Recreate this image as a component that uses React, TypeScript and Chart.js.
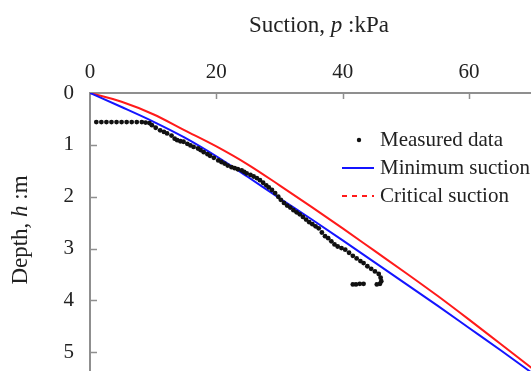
import React, { useEffect, useRef } from 'react';
import { Chart, registerables } from 'chart.js';

Chart.register(...registerables);

// ---------- data ----------
const seriesLabels = ['Measured data', 'Minimum suction', 'Critical suction'];

const measuredX = [
  1.0, 1.8, 2.6, 3.4, 4.2, 5.0, 5.8, 6.6, 7.4, 8.2, 8.8, 9.4,
  9.8, 10.4, 11.1, 11.7, 12.2, 12.9, 13.4, 13.8, 14.3, 14.8, 15.4, 15.9, 16.4, 17.1,
  17.5, 18.0, 18.6, 19.0, 19.6, 20.3, 20.8, 21.3, 21.8, 22.4, 22.9, 23.4, 24.0, 24.4,
  24.8, 25.4, 25.9, 26.4, 26.9, 27.4, 27.9, 28.3, 28.8, 29.3, 29.8, 30.2, 30.7, 31.2,
  31.7, 32.2, 32.7, 33.2, 33.7, 34.2, 34.7, 35.2, 35.7, 36.2, 36.7, 37.2, 37.7, 38.2,
  38.7, 39.2, 39.8, 40.4, 41.0, 41.6, 42.2, 42.8, 43.3, 43.9, 44.5, 45.1, 45.7, 46.0,
  46.1, 45.9, 45.4, 43.3, 42.7, 42.1, 41.6,
];
const measuredDepth = [
  0.56, 0.56, 0.56, 0.56, 0.56, 0.56, 0.56, 0.56, 0.56, 0.56, 0.57, 0.58,
  0.62, 0.67, 0.72, 0.75, 0.78, 0.82, 0.88, 0.91, 0.93, 0.94, 0.98, 1.01, 1.04, 1.07,
  1.10, 1.14, 1.18, 1.21, 1.25, 1.30, 1.33, 1.36, 1.40, 1.43, 1.45, 1.47, 1.49, 1.52,
  1.55, 1.58, 1.61, 1.64, 1.68, 1.73, 1.78, 1.82, 1.87, 1.93, 2.00, 2.06, 2.12, 2.17,
  2.21, 2.26, 2.30, 2.34, 2.39, 2.44, 2.49, 2.53, 2.57, 2.61, 2.69, 2.76, 2.80, 2.86,
  2.92, 2.96, 2.99, 3.02, 3.08, 3.14, 3.19, 3.24, 3.28, 3.34, 3.39, 3.44, 3.49, 3.56,
  3.63, 3.68, 3.69, 3.68, 3.68, 3.69, 3.69,
];

const minimumX = [0, 5, 10, 15, 20, 25, 30, 35, 40, 45, 50, 55, 60, 65, 70];
const minimumDepth = [0, 0.27, 0.55, 0.86, 1.22, 1.62, 2.03, 2.43, 2.84, 3.26, 3.68, 4.10, 4.53, 4.96, 5.40];

const criticalX = [0, 5, 10, 15, 20, 25, 30, 35, 40, 45, 50, 55, 60, 65, 70];
const criticalDepth = [0, 0.17, 0.41, 0.72, 1.03, 1.38, 1.78, 2.19, 2.61, 3.04, 3.47, 3.91, 4.37, 4.84, 5.31];

const xTickValues = [0, 20, 40, 60];
const yTickValues = [0, 1, 2, 3, 4, 5];

const X_MAX = 69.8;
const Y_MAX = 5.36;

const SERIF = "'Liberation Serif', 'Times New Roman', serif";
const AXIS_GRAY = '#8f8f8f';

const toPoints = (xs: number[], ys: number[]) => xs.map((x, i) => ({ x, y: ys[i] }));

// inner ticks
const innerTicksPlugin = {
  id: 'innerTicks',
  afterDraw(chart: any) {
    const { ctx, chartArea, scales } = chart;
    ctx.save();
    ctx.strokeStyle = AXIS_GRAY;
    ctx.lineWidth = 1.5;
    ctx.beginPath();
    xTickValues.forEach((v) => {
      if (v === 0) return;
      const px = Math.round(scales.x.getPixelForValue(v)) + 0.5;
      ctx.moveTo(px, chartArea.top);
      ctx.lineTo(px, chartArea.top + 6);
    });
    yTickValues.forEach((v) => {
      if (v === 0) return;
      const py = Math.round(scales.y.getPixelForValue(v)) + 0.5;
      ctx.moveTo(chartArea.left, py);
      ctx.lineTo(chartArea.left + 7, py);
    });
    ctx.stroke();
    ctx.restore();
  },
};

// axis titles with italic variable
const drawMixed = (ctx: any, parts: { t: string; italic: boolean }[], size: number) => {
  const widths = parts.map((p) => {
    ctx.font = `${p.italic ? 'italic ' : ''}${size}px ${SERIF}`;
    return ctx.measureText(p.t).width;
  });
  const total = widths.reduce((a, b) => a + b, 0);
  let x = -total / 2;
  parts.forEach((p, i) => {
    ctx.font = `${p.italic ? 'italic ' : ''}${size}px ${SERIF}`;
    ctx.fillText(p.t, x, 0);
    x += widths[i];
  });
};

const titlesPlugin = {
  id: 'axisTitles',
  afterDraw(chart: any) {
    const { ctx } = chart;
    ctx.save();
    ctx.fillStyle = '#222';
    ctx.textBaseline = 'middle';
    ctx.textAlign = 'left';
    ctx.save();
    ctx.translate(319, 26);
    drawMixed(ctx, [
      { t: 'Suction, ', italic: false },
      { t: 'p', italic: true },
      { t: ' :kPa', italic: false },
    ], 23);
    ctx.restore();
    ctx.save();
    ctx.translate(21, 230);
    ctx.rotate(-Math.PI / 2);
    drawMixed(ctx, [
      { t: 'Depth, ', italic: false },
      { t: 'h', italic: true },
      { t: ' :m', italic: false },
    ], 23);
    ctx.restore();
    ctx.restore();
  },
};

const legendPlugin = {
  id: 'insideLegend',
  afterDraw(chart: any) {
    const { ctx } = chart;
    const ds = chart.data.datasets;
    ctx.save();
    const x0 = 342, x1 = 374, tx = 380;
    const ys = [140, 168, 196];
    ctx.fillStyle = ds[0].backgroundColor;
    ctx.beginPath();
    ctx.arc((x0 + x1) / 2 + 1, ys[0], 2.2, 0, Math.PI * 2);
    ctx.fill();
    ctx.strokeStyle = ds[1].borderColor;
    ctx.lineWidth = 2;
    ctx.beginPath();
    ctx.moveTo(x0, ys[1]);
    ctx.lineTo(x1, ys[1]);
    ctx.stroke();
    ctx.strokeStyle = ds[2].borderColor;
    ctx.setLineDash([5, 5]);
    ctx.beginPath();
    ctx.moveTo(x0, ys[2]);
    ctx.lineTo(x1, ys[2]);
    ctx.stroke();
    ctx.setLineDash([]);
    ctx.fillStyle = '#222';
    ctx.font = `21px ${SERIF}`;
    ctx.textBaseline = 'middle';
    ctx.textAlign = 'left';
    ds.forEach((d: any, i: number) => ctx.fillText(d.label, tx, ys[i]));
    ctx.restore();
  },
};

export default function App() {
  const canvasRef = useRef<HTMLCanvasElement | null>(null);

  useEffect(() => {
    if (!canvasRef.current) return;
    const chart = new Chart(canvasRef.current, {
      type: 'scatter',
      data: {
        datasets: [
          {
            label: seriesLabels[0],
            data: toPoints(measuredX, measuredDepth),
            backgroundColor: '#111',
            borderColor: '#111',
            pointRadius: 2.4,
            pointBorderWidth: 0,
            showLine: false,
          },
          {
            label: seriesLabels[1],
            data: toPoints(minimumX, minimumDepth),
            borderColor: '#1414ff',
            backgroundColor: '#1414ff',
            borderWidth: 2,
            pointRadius: 0,
            showLine: true,
            cubicInterpolationMode: 'monotone',
          },
          {
            label: seriesLabels[2],
            data: toPoints(criticalX, criticalDepth),
            borderColor: '#ff1a1a',
            backgroundColor: '#ff1a1a',
            borderWidth: 2,
            pointRadius: 0,
            showLine: true,
            cubicInterpolationMode: 'monotone',
          },
        ],
      },
      options: {
        responsive: false,
        animation: false,
        layout: { padding: 0, autoPadding: false },
        plugins: {
          legend: { display: false },
          tooltip: { enabled: false },
        },
        scales: {
          x: {
            type: 'linear',
            position: 'top',
            min: 0,
            max: X_MAX,
            afterBuildTicks: (s: any) => {
              s.ticks = xTickValues.map((v) => ({ value: v }));
            },
            afterFit: (s: any) => {
              s.height = 93;
              s.paddingLeft = 0;
              s.paddingRight = 0;
            },
            grid: { display: false, drawTicks: false },
            border: { display: true, color: AXIS_GRAY, width: 2 },
            ticks: {
              padding: 8,
              color: '#222',
              font: { family: SERIF, size: 21 },
              maxRotation: 0,
            },
          },
          y: {
            type: 'linear',
            reverse: true,
            min: 0,
            max: Y_MAX,
            afterBuildTicks: (s: any) => {
              s.ticks = yTickValues.map((v) => ({ value: v }));
            },
            afterFit: (s: any) => {
              s.width = 90;
              s.paddingTop = 0;
              s.paddingBottom = 0;
            },
            grid: { display: false, drawTicks: false },
            border: { display: true, color: AXIS_GRAY, width: 2 },
            ticks: {
              padding: 16,
              color: '#222',
              font: { family: SERIF, size: 21 },
            },
          },
        },
      },
      plugins: [innerTicksPlugin, titlesPlugin, legendPlugin],
    } as any);
    return () => chart.destroy();
  }, []);

  return (
    <div style={{ position: 'fixed', left: 0, top: 0, width: 531, height: 371, background: '#fff' }}>
      <canvas ref={canvasRef} width={531} height={371} style={{ display: 'block' }} />
    </div>
  );
}
